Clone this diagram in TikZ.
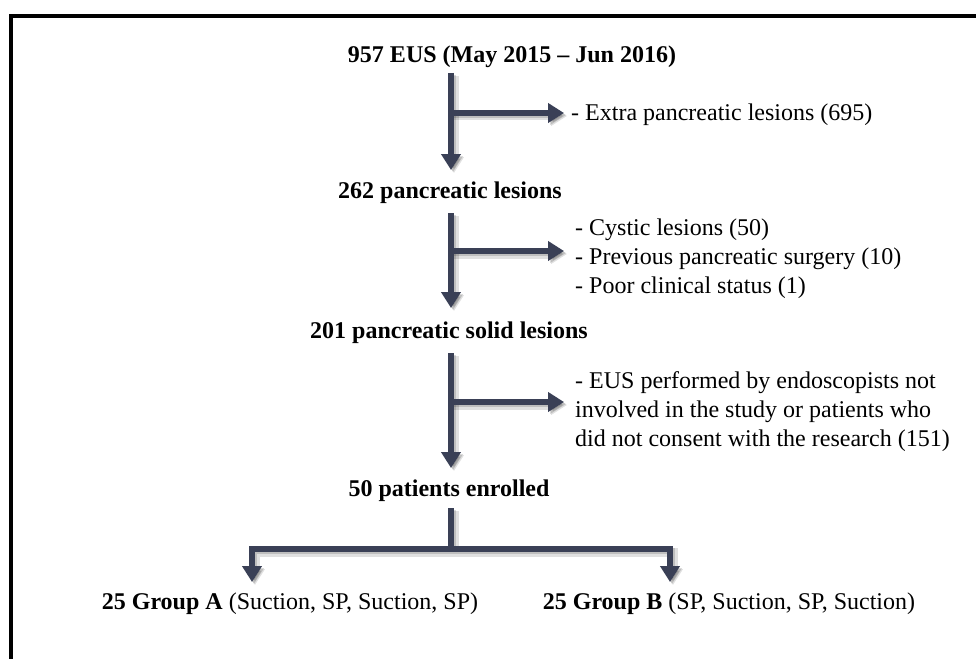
\documentclass[tikz,border=0pt]{standalone}
\usepackage{fontspec}
\setmainfont{Liberation Serif}
\usetikzlibrary{arrows.meta}
\definecolor{arr}{RGB}{58,64,86}
\newcommand\myflows{%
  \draw[flow,tip] (s1) -- (t1);
  \draw[flow,tip] (b1) -- (e1);
  \draw[flow,tip] (s2) -- (t2);
  \draw[flow,tip] (b2) -- (e2);
  \draw[flow,tip] (s3) -- (t3);
  \draw[flow,tip] (b3) -- (e3);
  \draw[flow] (s4) -- (bar);
  \draw[flow,tip] (bar) -| (tA);
  \draw[flow,tip] (bar) -| (tB);
}
\begin{document}
\begin{tikzpicture}[x=1pt,y=-1pt,
  txt/.style={inner sep=0pt, font=\fontsize{24}{29}\selectfont},
  bold/.style={inner sep=0pt, font=\fontsize{24}{29}\selectfont\bfseries},
  side/.style={txt, anchor=west, align=left},
  flow/.style={draw=arr, line width=6pt},
  tip/.style={-{Triangle[width=19pt,length=16pt]}},
]
\useasboundingbox (0,0) rectangle (976,658);
\fill[white] (0,0) rectangle (976,658);
\clip (0,0) rectangle (976,658);
% frame
\draw[line width=4pt, line join=miter] (10.5,670) -- (10.5,16.5) -- (990,16.5);

% text nodes
\node[bold] (title) at (512,57) {957 EUS (May 2015 -- Jun 2016)};
\node[side] (x1) at (571,115) {- Extra pancreatic lesions (695)};
\node[bold] (n262) at (450,193) {262 pancreatic lesions};
\node[side] (x2) at (575,259) {- Cystic lesions (50)\\- Previous pancreatic surgery (10)\\- Poor clinical status (1)};
\node[bold] (n201) at (449,333) {201 pancreatic solid lesions};
\node[side] (x3) at (575,412) {- EUS performed by endoscopists not\\involved in the study or patients who\\did not consent with the research (151)};
\node[bold] (n50) at (449,491) {50 patients enrolled};
\node[txt] (gA) at (290,604) {\textbf{25 Group A} (Suction, SP, Suction, SP)};
\node[txt] (gB) at (729,604) {\textbf{25 Group B} (SP, Suction, SP, Suction)};

% connector coordinates
\coordinate (s1) at (451,73);
\coordinate (t1) at (451,170);
\coordinate (b1) at (451,113);
\coordinate (e1) at (564,113);
\coordinate (s2) at (451,213);
\coordinate (t2) at (451,308);
\coordinate (b2) at (451,251);
\coordinate (e2) at (564,251);
\coordinate (s3) at (451,353);
\coordinate (t3) at (451,468);
\coordinate (b3) at (451,402);
\coordinate (e3) at (564,402);
\coordinate (s4) at (451,508);
\coordinate (bar) at (451,549);
\coordinate (tA) at (252,582);
\coordinate (tB) at (670,582);

% shadows
\begin{scope}[transform canvas={shift={(3pt,-3pt)}}, flow/.append style={draw=black, opacity=0.12, line width=9pt}]
  \myflows
\end{scope}
\begin{scope}[transform canvas={shift={(2pt,-2pt)}}, flow/.append style={draw=black, opacity=0.15, line width=6pt}]
  \myflows
\end{scope}
% arrows
\myflows
\end{tikzpicture}
\end{document}
